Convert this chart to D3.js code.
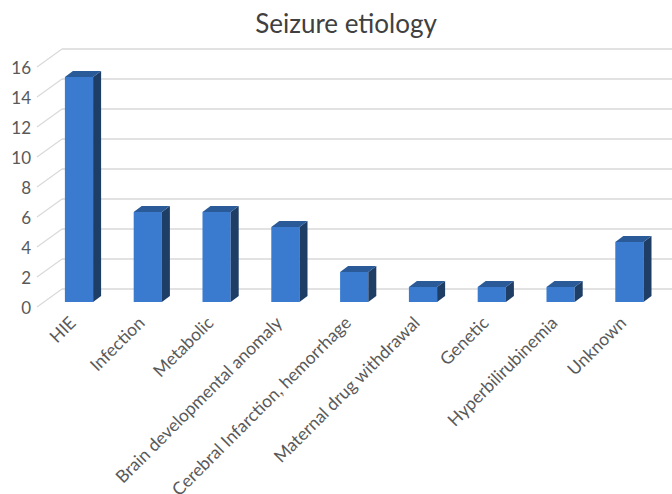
<!DOCTYPE html>
<html>
<head>
<meta charset="utf-8">
<script src="https://cdn.jsdelivr.net/npm/d3@7"></script>
<style>
  body { margin: 0; background: #fff; }
  text { font-family: Lato, "Open Sans", sans-serif; fill: #595959; }
</style>
</head>
<body>
<div id="chart"></div>
<script>
// data
var categories = ["HIE", "Infection", "Metabolic", "Brain developmental anomaly",
  "Cerebral Infarction, hemorrhage", "Maternal drug withdrawal", "Genetic",
  "Hyperbilirubinemia", "Unknown"];
var values = [15, 6, 6, 5, 2, 1, 1, 1, 4];
var yTicks = [0, 2, 4, 6, 8, 10, 12, 14, 16];

var width = 672, height = 494;
var depthX = 8, depthY = -6;   // bar depth offset
var wallX = 62, wallDY = -13;   // back wall offset

var svg = d3.select("#chart").append("svg")
  .attr("width", width)
  .attr("height", height);

var x = d3.scaleBand()
  .domain(categories)
  .range([44.6, 663.8])
  .paddingInner(0.59)
  .paddingOuter(0.295);

var y = d3.scaleLinear()
  .domain([0, 16])
  .range([302, 62]);

// gridlines: back wall + left side
var grid = svg.append("g");
yTicks.forEach(function(t) {
  grid.append("line")
    .attr("x1", wallX).attr("x2", width)
    .attr("y1", y(t) + wallDY).attr("y2", y(t) + wallDY)
    .attr("stroke", "#d9d9d9").attr("stroke-width", 1.6);
  grid.append("line")
    .attr("x1", 37).attr("x2", wallX)
    .attr("y1", y(t) + 5).attr("y2", y(t) + wallDY)
    .attr("stroke", "#d9d9d9").attr("stroke-width", 1.2);
});

// y labels
svg.append("g").selectAll("text")
  .data(yTicks)
  .enter().append("text")
  .attr("x", 31)
  .attr("y", function(d) { return y(d) + 12; })
  .attr("text-anchor", "end")
  .style("font-size", "17px")
  .text(function(d) { return d; });

// bars
var bars = svg.append("g").selectAll("g")
  .data(values)
  .enter().append("g");

bars.append("rect")
  .attr("x", function(d, i) { return x(categories[i]); })
  .attr("y", function(d) { return y(d); })
  .attr("width", x.bandwidth())
  .attr("height", function(d) { return y(0) - y(d); })
  .attr("fill", "#3a7bd0");

bars.append("polygon")
  .attr("points", function(d, i) {
    var x1 = x(categories[i]) + x.bandwidth();
    return [[x1, y(d)], [x1 + depthX, y(d) + depthY],
      [x1 + depthX, y(0) + depthY], [x1, y(0)]].join(" ");
  })
  .attr("fill", "#1f3e66");

bars.append("polygon")
  .attr("points", function(d, i) {
    var x0 = x(categories[i]), x1 = x0 + x.bandwidth();
    return [[x0, y(d)], [x0 + depthX, y(d) + depthY],
      [x1 + depthX, y(d) + depthY], [x1, y(d)]].join(" ");
  })
  .attr("fill", "#2a5b98");

// x labels
svg.append("g").selectAll("text")
  .data(categories)
  .enter().append("text")
  .attr("transform", function(d) {
    var cx = x(d) + x.bandwidth() / 2;
    return "translate(" + (cx - 2) + "," + 324 + ") rotate(-45)";
  })
  .attr("text-anchor", "end")
  .style("font-size", "17.5px")
  .text(function(d) { return d; });

// title
svg.append("text")
  .attr("x", 346)
  .attr("y", 33)
  .attr("text-anchor", "middle")
  .style("font-size", "26px")
  .style("fill", "#404040")
  .text("Seizure etiology");
</script>
</body>
</html>
